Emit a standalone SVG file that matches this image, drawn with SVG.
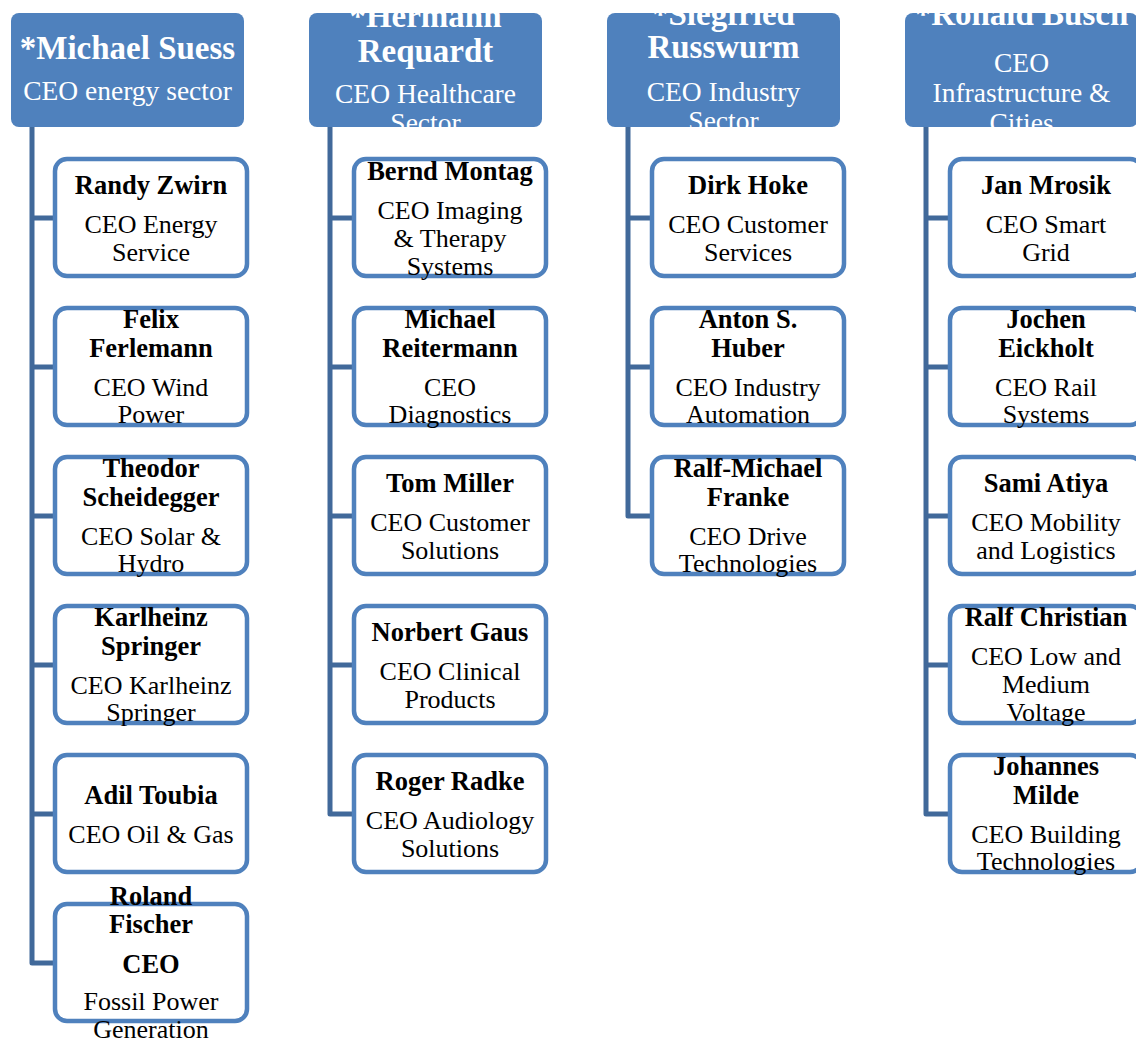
<svg xmlns="http://www.w3.org/2000/svg" width="1136" height="1041" viewBox="0 0 1136 1041">
<style>
.hdr{fill:#4F81BD}
.box{fill:#fff;stroke:#4F81BD;stroke-width:4.5}
.conn{fill:none;stroke:#41699A;stroke-width:5;stroke-linejoin:round}
text{font-family:"Liberation Serif","DejaVu Serif",serif;text-anchor:middle}
.hn{font-weight:bold;font-size:33px;fill:#fff}
.ht{font-size:27.5px;fill:#fff}
.cn{font-weight:bold;font-size:26.5px;fill:#000}
.ct{font-size:26px;fill:#000}
</style>
<defs>
<clipPath id="c1"><rect x="11" y="13" width="233" height="114" rx="8"/></clipPath>
<clipPath id="c2"><rect x="309" y="13" width="233" height="114" rx="8"/></clipPath>
<clipPath id="c3"><rect x="607" y="13" width="233" height="114" rx="8"/></clipPath>
<clipPath id="c4"><rect x="905" y="13" width="233" height="114" rx="8"/></clipPath>
</defs>
<rect width="1136" height="1041" fill="#fff"/>
<g id="connectors">
<path class="conn" d="M32 127 V963 H55 M32 218 H55 M32 367 H55 M32 516 H55 M32 665 H55 M32 814 H55"/>
<path class="conn" d="M330 127 V814 H354 M330 218 H354 M330 367 H354 M330 516 H354 M330 665 H354"/>
<path class="conn" d="M628 127 V516 H652 M628 218 H652 M628 367 H652"/>
<path class="conn" d="M926 127 V814 H950 M926 218 H950 M926 367 H950 M926 516 H950 M926 665 H950"/>
</g>
<g id="h1"><rect class="hdr" x="11" y="13" width="233" height="114" rx="8"/>
<g clip-path="url(#c1)"><text class="hn" x="127.5" y="59">*Michael Suess</text><text class="ht" x="127.5" y="100">CEO energy sector</text></g></g>
<g id="h2"><rect class="hdr" x="309" y="13" width="233" height="114" rx="8"/>
<g clip-path="url(#c2)"><text class="hn" x="425.5" y="27">*Hermann</text><text class="hn" x="425.5" y="62">Requardt</text><text class="ht" x="425.5" y="103">CEO Healthcare</text><text class="ht" x="425.5" y="132">Sector</text></g></g>
<g id="h3"><rect class="hdr" x="607" y="13" width="233" height="114" rx="8"/>
<g clip-path="url(#c3)"><text class="hn" x="723.5" y="25">*Siegfried</text><text class="hn" x="723.5" y="58">Russwurm</text><text class="ht" x="723.5" y="101">CEO Industry</text><text class="ht" x="723.5" y="130">Sector</text></g></g>
<g id="h4"><rect class="hdr" x="905" y="13" width="233" height="114" rx="8"/>
<g clip-path="url(#c4)"><text class="hn" x="1021.5" y="25">*Ronald Busch</text><text class="ht" x="1021.5" y="72">CEO</text><text class="ht" x="1021.5" y="102">Infrastructure &amp;</text><text class="ht" x="1021.5" y="132">Cities</text></g></g>

<g id="n1a"><rect class="box" x="55" y="159" width="192" height="117" rx="12"/><text class="cn" x="151" y="194">Randy Zwirn</text><text class="ct" x="151" y="233">CEO Energy</text><text class="ct" x="151" y="261">Service</text></g>
<g id="n1b"><rect class="box" x="55" y="308" width="192" height="117" rx="12"/><text class="cn" x="151" y="328">Felix</text><text class="cn" x="151" y="357">Ferlemann</text><text class="ct" x="151" y="396">CEO Wind</text><text class="ct" x="151" y="423">Power</text></g>
<g id="n1c"><rect class="box" x="55" y="457" width="192" height="117" rx="12"/><text class="cn" x="151" y="477">Theodor</text><text class="cn" x="151" y="506">Scheidegger</text><text class="ct" x="151" y="545">CEO Solar &amp;</text><text class="ct" x="151" y="572">Hydro</text></g>
<g id="n1d"><rect class="box" x="55" y="606" width="192" height="117" rx="12"/><text class="cn" x="151" y="626">Karlheinz</text><text class="cn" x="151" y="655">Springer</text><text class="ct" x="151" y="694">CEO Karlheinz</text><text class="ct" x="151" y="721">Springer</text></g>
<g id="n1e"><rect class="box" x="55" y="755" width="192" height="117" rx="12"/><text class="cn" x="151" y="804">Adil Toubia</text><text class="ct" x="151" y="843">CEO Oil &amp; Gas</text></g>
<g id="n1f"><rect class="box" x="55" y="904" width="192" height="117" rx="12"/><text class="cn" x="151" y="905">Roland</text><text class="cn" x="151" y="933">Fischer</text><text class="cn" x="151" y="973">CEO</text><text class="ct" x="151" y="1010">Fossil Power</text><text class="ct" x="151" y="1038">Generation</text></g>

<g id="n2a"><rect class="box" x="354" y="159" width="192" height="117" rx="12"/><text class="cn" x="450" y="180">Bernd Montag</text><text class="ct" x="450" y="219">CEO  Imaging</text><text class="ct" x="450" y="247">&amp; Therapy</text><text class="ct" x="450" y="275">Systems</text></g>
<g id="n2b"><rect class="box" x="354" y="308" width="192" height="117" rx="12"/><text class="cn" x="450" y="328">Michael</text><text class="cn" x="450" y="357">Reitermann</text><text class="ct" x="450" y="396">CEO</text><text class="ct" x="450" y="423">Diagnostics</text></g>
<g id="n2c"><rect class="box" x="354" y="457" width="192" height="117" rx="12"/><text class="cn" x="450" y="492">Tom Miller</text><text class="ct" x="450" y="531">CEO Customer</text><text class="ct" x="450" y="559">Solutions</text></g>
<g id="n2d"><rect class="box" x="354" y="606" width="192" height="117" rx="12"/><text class="cn" x="450" y="641">Norbert Gaus</text><text class="ct" x="450" y="680">CEO Clinical</text><text class="ct" x="450" y="708">Products</text></g>
<g id="n2e"><rect class="box" x="354" y="755" width="192" height="117" rx="12"/><text class="cn" x="450" y="790">Roger Radke</text><text class="ct" x="450" y="829">CEO Audiology</text><text class="ct" x="450" y="857">Solutions</text></g>

<g id="n3a"><rect class="box" x="652" y="159" width="192" height="117" rx="12"/><text class="cn" x="748" y="194">Dirk Hoke</text><text class="ct" x="748" y="233">CEO  Customer</text><text class="ct" x="748" y="261">Services</text></g>
<g id="n3b"><rect class="box" x="652" y="308" width="192" height="117" rx="12"/><text class="cn" x="748" y="328">Anton S.</text><text class="cn" x="748" y="357">Huber</text><text class="ct" x="748" y="396">CEO Industry</text><text class="ct" x="748" y="423">Automation</text></g>
<g id="n3c"><rect class="box" x="652" y="457" width="192" height="117" rx="12"/><text class="cn" x="748" y="477">Ralf-Michael</text><text class="cn" x="748" y="506">Franke</text><text class="ct" x="748" y="545">CEO Drive</text><text class="ct" x="748" y="572">Technologies</text></g>

<g id="n4a"><rect class="box" x="950" y="159" width="192" height="117" rx="12"/><text class="cn" x="1046" y="194">Jan Mrosik</text><text class="ct" x="1046" y="233">CEO Smart</text><text class="ct" x="1046" y="261">Grid</text></g>
<g id="n4b"><rect class="box" x="950" y="308" width="192" height="117" rx="12"/><text class="cn" x="1046" y="328">Jochen</text><text class="cn" x="1046" y="357">Eickholt</text><text class="ct" x="1046" y="396">CEO Rail</text><text class="ct" x="1046" y="423">Systems</text></g>
<g id="n4c"><rect class="box" x="950" y="457" width="192" height="117" rx="12"/><text class="cn" x="1046" y="492">Sami Atiya</text><text class="ct" x="1046" y="531">CEO Mobility</text><text class="ct" x="1046" y="559">and Logistics</text></g>
<g id="n4d"><rect class="box" x="950" y="606" width="192" height="117" rx="12"/><text class="cn" x="1046" y="626">Ralf Christian</text><text class="ct" x="1046" y="665">CEO Low and</text><text class="ct" x="1046" y="693">Medium</text><text class="ct" x="1046" y="721">Voltage</text></g>
<g id="n4e"><rect class="box" x="950" y="755" width="192" height="117" rx="12"/><text class="cn" x="1046" y="775">Johannes</text><text class="cn" x="1046" y="804">Milde</text><text class="ct" x="1046" y="843">CEO Building</text><text class="ct" x="1046" y="870">Technologies</text></g>
</svg>
